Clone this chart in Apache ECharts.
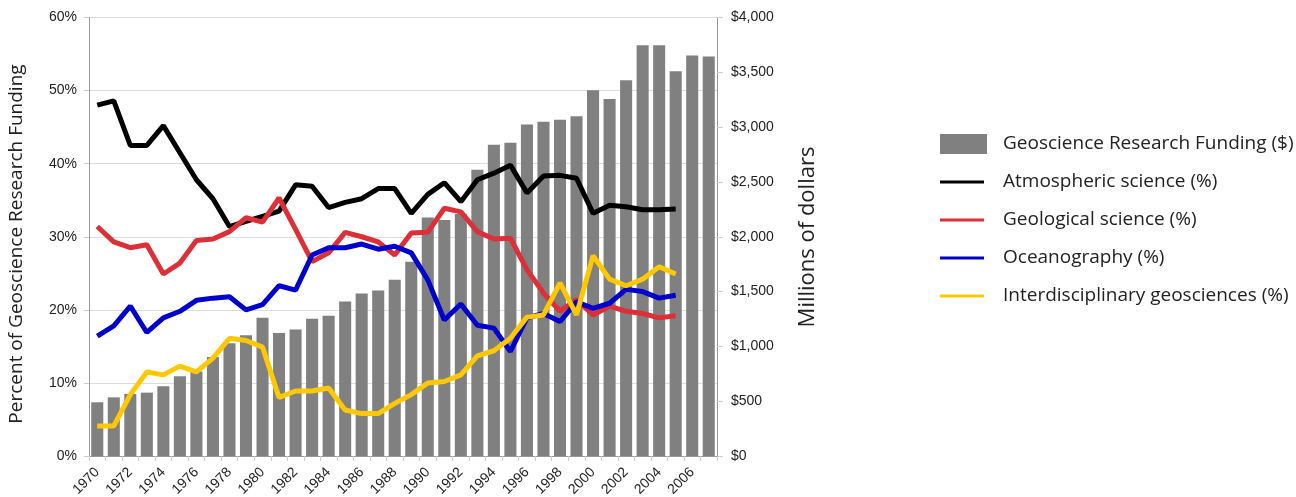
<!DOCTYPE html>
<html>
<head>
<meta charset="utf-8">
<script src="https://cdn.jsdelivr.net/npm/echarts@6/dist/echarts.min.js"></script>
<style>
html,body{margin:0;padding:0;background:#fff;}
#chart{width:1296px;height:497px;}
</style>
</head>
<body>
<div id="chart"></div>
<script>
const years = [];
for (let y = 1970; y <= 2007; y++) years.push(String(y));

const funding = [490,535,566,578,636,728,770,904,1029,1102,1260,1123,1153,1251,1279,1409,1482,1510,1607,1772,2176,2152,2207,2612,2840,2858,3023,3050,3068,3099,3336,3257,3428,3747,3747,3510,3653,3644];
const atmospheric = [48.0,48.6,42.5,42.5,45.2,41.5,37.8,35.2,31.4,32.1,32.8,33.5,37.1,36.9,34.0,34.7,35.2,36.6,36.6,33.2,35.8,37.4,34.8,37.8,38.7,39.8,36.0,38.3,38.4,38.0,33.2,34.3,34.1,33.7,33.7,33.8];
const geological = [31.4,29.3,28.5,28.9,24.9,26.4,29.5,29.7,30.7,32.6,32.0,35.3,31.0,26.6,27.8,30.6,30.0,29.3,27.5,30.5,30.6,33.9,33.4,30.7,29.7,29.8,25.5,22.3,19.8,21.4,19.3,20.5,19.8,19.5,18.9,19.2];
const oceanography = [16.4,17.8,20.5,16.9,18.9,19.8,21.3,21.6,21.8,20.0,20.7,23.3,22.7,27.5,28.5,28.5,29.0,28.3,28.7,27.8,24.1,18.6,20.8,17.9,17.5,14.3,18.9,19.5,18.4,21.1,20.2,20.9,22.8,22.5,21.6,22.0];
const interdisciplinary = [4.1,4.1,8.4,11.5,11.1,12.3,11.5,13.4,16.1,15.8,14.9,8.0,8.9,8.9,9.3,6.3,5.8,5.8,7.2,8.4,10.0,10.2,11.1,13.7,14.4,16.1,19.0,19.3,23.7,19.3,27.4,24.2,23.3,24.2,25.9,24.9];

const names = ['Geoscience Research Funding ($)','Atmospheric science (%)','Geological science (%)','Oceanography (%)','Interdisciplinary geosciences (%)'];
const colors = ['#808080','#000000','#dd2f37','#0000cc','#ffc800'];
const leftTitle = 'Percent of Geoscience Research Funding';
const rightTitle = 'Millions of dollars';

const titleFont = '"Open Sans", "Noto Sans", sans-serif';
const tickFont = '"Liberation Sans", Arial, sans-serif';

const chart = echarts.init(document.getElementById('chart'));
const lineSeries = (i, data) => ({
  name: names[i], type: 'line', yAxisIndex: 0, data: data,
  showSymbol: false, symbol: 'none',
  lineStyle: { width: 5, color: colors[i] },
  itemStyle: { color: colors[i] },
  animation: false
});

chart.setOption({
  animation: false,
  grid: { left: 89, right: 579, top: 17.5, bottom: 41, containLabel: false, outerBoundsMode: 'none' },
  legend: [
    {
      data: [names[0]], left: 940, top: 133, orient: 'vertical', padding: 0,
      itemWidth: 47, itemHeight: 20, icon: 'rect', itemGap: 18,
      textStyle: { fontFamily: titleFont, fontSize: 19, color: '#222', lineHeight: 22, padding: [0,0,0,11] }
    },
    {
      data: names.slice(1), left: 940, top: 171, orient: 'vertical', padding: 0,
      itemWidth: 44, itemHeight: 3, icon: 'rect', itemGap: 16,
      textStyle: { fontFamily: titleFont, fontSize: 19, color: '#222', lineHeight: 22, padding: [0,0,0,14] }
    }
  ],
  graphic: [
    {
      type: 'text', x: 17, y: 244, rotation: Math.PI / 2,
      style: { text: leftTitle, fontFamily: titleFont, fontSize: 19, fill: '#222', align: 'center', verticalAlign: 'middle' }
    },
    {
      type: 'text', x: 808, y: 237, rotation: Math.PI / 2,
      style: { text: rightTitle, fontFamily: titleFont, fontSize: 22, fill: '#222', align: 'center', verticalAlign: 'middle' }
    }
  ],
  xAxis: {
    type: 'category', data: years, boundaryGap: true,
    axisLine: { lineStyle: { color: '#999', width: 1 } },
    axisTick: { show: true, interval: 0, length: 5, lineStyle: { color: '#ccc' } },
    axisLabel: { interval: 1, rotate: 45, fontFamily: tickFont, fontSize: 14, color: '#222', margin: 14 }
  },
  yAxis: [
    {
      type: 'value', min: 0, max: 60, interval: 10, position: 'left',
      axisLine: { show: true, lineStyle: { color: '#999' } },
      axisTick: { show: true, length: 5, lineStyle: { color: '#ccc' } },
      axisLabel: { formatter: '{value}%', fontFamily: tickFont, fontSize: 14, color: '#222', margin: 12 },
      splitLine: { show: true, lineStyle: { color: '#dcdcdc', width: 1 } }
    },
    {
      type: 'value', min: 0, max: 4000, interval: 500, position: 'right',
      axisLine: { show: true, lineStyle: { color: '#999' } },
      axisTick: { show: true, length: 6, lineStyle: { color: '#ccc' } },
      axisLabel: {
        fontFamily: tickFont, fontSize: 14, color: '#222', margin: 14,
        formatter: v => '$' + v.toLocaleString('en-US')
      },
      splitLine: { show: false }
    }
  ],
  series: [
    {
      name: names[0], type: 'bar', yAxisIndex: 1, data: funding,
      barCategoryGap: '27%', itemStyle: { color: colors[0] }, animation: false
    },
    lineSeries(1, atmospheric),
    lineSeries(2, geological),
    lineSeries(3, oceanography),
    lineSeries(4, interdisciplinary)
  ]
});
</script>
</body>
</html>
